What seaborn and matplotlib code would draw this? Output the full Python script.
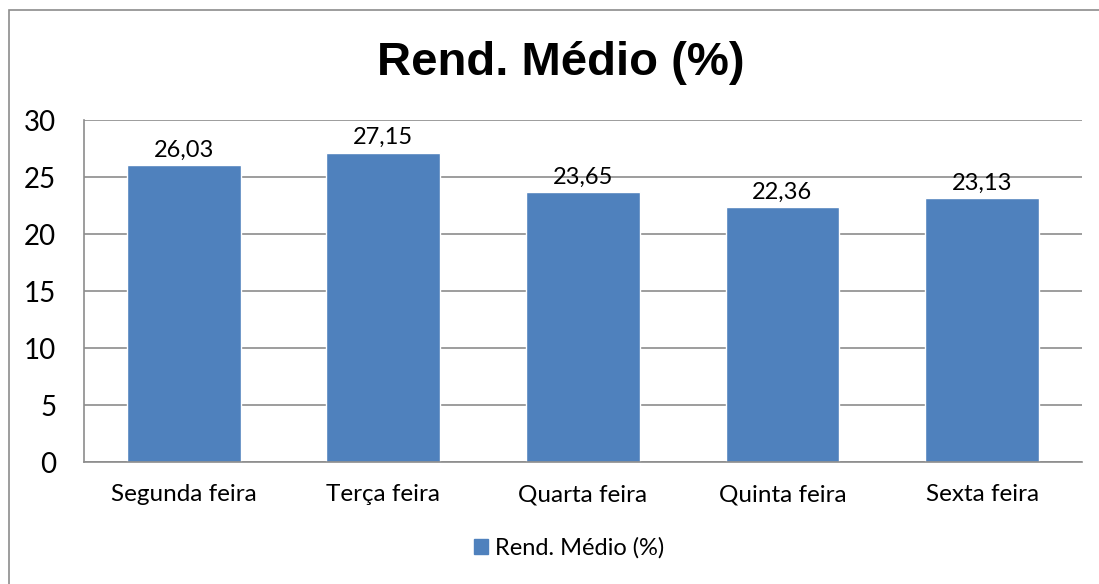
import pandas as pd
import matplotlib
matplotlib.use("Agg")
import matplotlib.pyplot as plt
import seaborn as sns
from matplotlib.patches import Rectangle

# Chart data
dias = ['Segunda feira', 'Terça feira', 'Quarta feira', 'Quinta feira', 'Sexta feira']
rendimento = [26.03, 27.15, 23.65, 22.36, 23.13]
serie = 'Rend. Médio (%)'
yticks = [0, 5, 10, 15, 20, 25, 30]

df = pd.DataFrame({'Dia': dias, 'Valor': rendimento})

sns.set_theme(style="white")
plt.rcParams['font.family'] = ['Lato', 'DejaVu Sans']
plt.rcParams['text.color'] = 'black'

fig = plt.figure(figsize=(10.99, 5.84), dpi=100)
ax = fig.add_axes([0.0764, 0.2089, 0.908, 0.5856])

bar_color = '#4F81BD'
sns.barplot(data=df, x='Dia', y='Valor', color=bar_color, width=0.57,
            saturation=1, ax=ax)

# gridlines and axes
ax.set_ylim(0, 30)
ax.set_yticks(yticks)
ax.yaxis.grid(True, color='#8c8c8c', linewidth=1.2)
ax.set_axisbelow(True)
for side in ['top', 'right']:
    ax.spines[side].set_visible(False)
for side in ['left', 'bottom']:
    ax.spines[side].set_color('#8c8c8c')
    ax.spines[side].set_linewidth(1.2)
ax.tick_params(axis='both', length=0, colors='black')
ax.tick_params(axis='y', pad=20, labelsize=20)
ax.tick_params(axis='x', pad=16, labelsize=17.5)
ax.set_xlabel('')
ax.set_ylabel('')

# data labels with comma decimals
for patch, v in zip(ax.patches, rendimento):
    ax.annotate(f'{v:.2f}'.replace('.', ','),
                (patch.get_x() + patch.get_width() / 2, patch.get_height()),
                xytext=(0, 3), textcoords='offset points',
                ha='center', va='bottom', fontsize=17)

# title
fig.text(0.51, 0.892, serie, ha='center', va='center', fontsize=34,
         fontweight='bold', family=['Liberation Sans', 'DejaVu Sans'])

# legend at bottom
handle = Rectangle((0, 0), 1, 1, color=bar_color)
fig.legend([handle], [serie], loc='center', bbox_to_anchor=(0.518, 0.062),
           frameon=False, fontsize=17, handlelength=0.6, handleheight=0.6,
           handletextpad=0.3)

# outer chart border
fig.patches.append(Rectangle((9 / 1099, -0.05), 1.2, 1 - 10 / 584 + 0.05,
                             transform=fig.transFigure, fill=False,
                             edgecolor='#8c8c8c', linewidth=1.2))

fig.savefig('out.png', dpi=100)
